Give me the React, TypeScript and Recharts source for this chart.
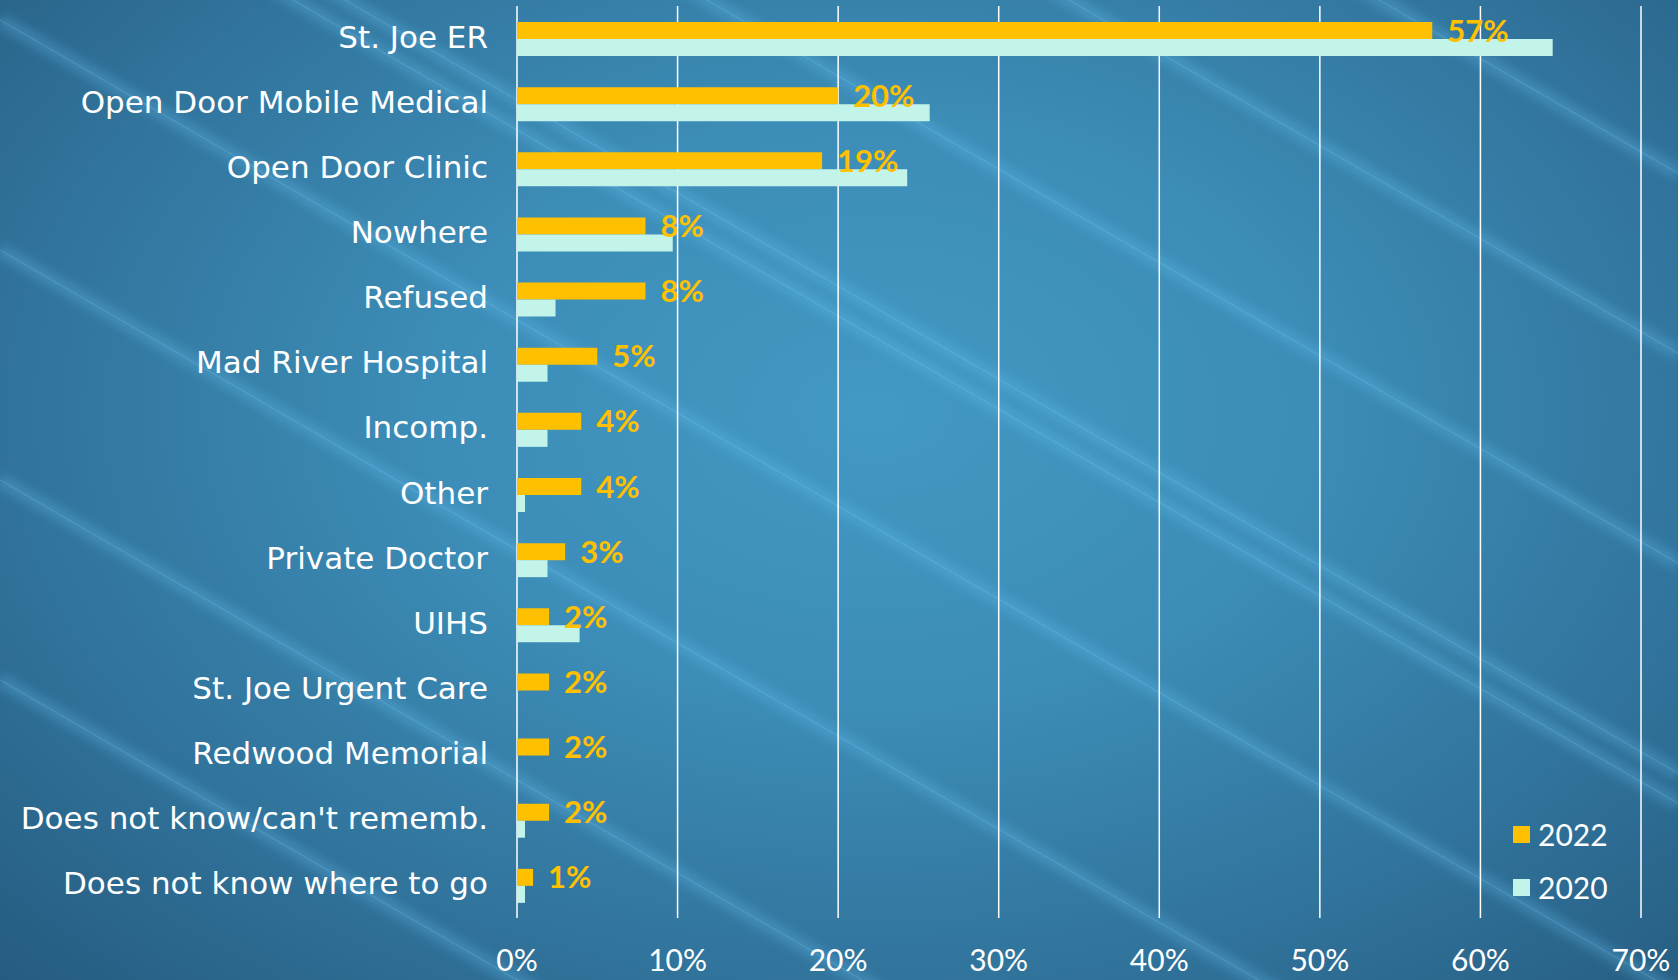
import React from 'react';
import { BarChart, Bar, XAxis, YAxis, CartesianGrid, LabelList } from 'recharts';

const categories = [
  'St. Joe ER',
  'Open Door Mobile Medical',
  'Open Door Clinic',
  'Nowhere',
  'Refused',
  'Mad River Hospital',
  'Incomp.',
  'Other',
  'Private Doctor',
  'UIHS',
  'St. Joe Urgent Care',
  'Redwood Memorial',
  "Does not know/can't rememb.",
  'Does not know where to go',
];
const values2022 = [57, 20, 19, 8, 8, 5, 4, 4, 3, 2, 2, 2, 2, 1];
const values2020 = [64.5, 25.7, 24.3, 9.7, 2.4, 1.9, 1.9, 0.5, 1.9, 3.9, 0, 0, 0.5, 0.5];
const xTicks = [0, 10, 20, 30, 40, 50, 60, 70];

const data = categories.map((name, i) => ({ name, y2022: values2022[i], y2020: values2020[i] }));

const ORANGE = '#FFC000';
const MINT = '#C3F4EA';

// decorative diagonal streaks of the slide background (y = 0.58x + b)
const streaks = [-800, -620, -410, -200, -170, 20, 250, 480, 680];

const LegendBox = () => (
  <div
    style={{
      position: 'absolute',
      left: 1513,
      top: 808,
      fontFamily: 'Lato',
      fontSize: 30,
      color: '#fff',
      lineHeight: '53px',
    }}
  >
    {[
      { label: '2022', color: ORANGE },
      { label: '2020', color: MINT },
    ].map((d) => (
      <div key={d.label} style={{ display: 'flex', alignItems: 'center' }}>
        <span style={{ display: 'inline-block', width: 17, height: 17, background: d.color, marginRight: 8 }} />
        {d.label}
      </div>
    ))}
  </div>
);

export default function App() {
  return (
    <div
      style={{
        position: 'absolute',
        left: 0,
        top: 0,
        width: 1678,
        height: 980,
        overflow: 'hidden',
        background:
          'radial-gradient(ellipse 75% 85% at 52% 42%, #4299c3 0%, #3c8db7 35%, #30729a 70%, #25597d 100%)',
      }}
    >
      <svg width={1678} height={980} style={{ position: 'absolute', left: 0, top: 0 }}>
        <defs>
          <filter id="blur" x="-10%" y="-10%" width="120%" height="120%">
            <feGaussianBlur stdDeviation="5" />
          </filter>
        </defs>
        {streaks.map((b, i) => (
          <g key={i}>
            <line x1={0} y1={b} x2={1678} y2={b + 0.58 * 1678} stroke="rgba(100,190,240,0.28)" strokeWidth={14} filter="url(#blur)" />
            <line x1={0} y1={b} x2={1678} y2={b + 0.58 * 1678} stroke="rgba(150,215,245,0.16)" strokeWidth={1.5} />
          </g>
        ))}
      </svg>
      <div style={{ position: 'absolute', left: 0, top: 0 }}>
        <BarChart
          width={1678}
          height={980}
          data={data}
          layout="vertical"
          margin={{ top: 6, right: 37, bottom: 0, left: 0 }}
          barSize={17}
          barGap={0}
        >
          <CartesianGrid horizontal={false} vertical={true} stroke="#ffffff" strokeWidth={1.5} />
          <XAxis
            type="number"
            domain={[0, 70]}
            ticks={xTicks}
            tickFormatter={(v: number) => `${v}%`}
            axisLine={false}
            tickLine={false}
            tickSize={0}
            tickMargin={32}
            height={62}
            tick={{ fill: '#ffffff', fontSize: 30, fontFamily: 'Lato' }}
          />
          <YAxis
            type="category"
            dataKey="name"
            width={517}
            axisLine={false}
            tickLine={false}
            tickSize={0}
            tickMargin={29}
            interval={0}
            tick={{ fill: '#ffffff', fontSize: 31, fontFamily: 'DejaVu Sans', dy: -2 }}
          />
          <Bar dataKey="y2022" name="2022" fill={ORANGE} isAnimationActive={false}>
            <LabelList
              dataKey="y2022"
              position="right"
              offset={15}
              formatter={(v: number) => `${v}%`}
              style={{ fill: ORANGE, fontSize: 31, fontWeight: 700, fontFamily: 'Lato' }}
            />
          </Bar>
          <Bar dataKey="y2020" name="2020" fill={MINT} isAnimationActive={false} />
        </BarChart>
      </div>
      <LegendBox />
    </div>
  );
}
